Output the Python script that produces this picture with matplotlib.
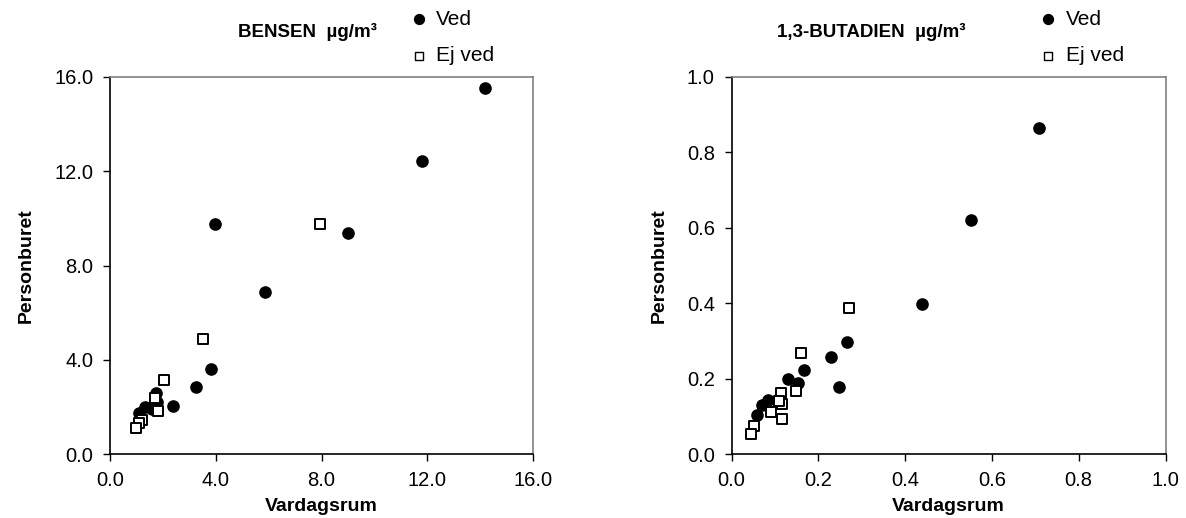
import matplotlib
matplotlib.use('Agg')
import matplotlib.pyplot as plt

plt.rcParams['font.family'] = ['Liberation Sans', 'DejaVu Sans']

# BENSEN (µg/m3): Vardagsrum vs Personburet
bensen_ved_x = [14.2, 11.8, 3.96, 9.0, 5.87, 3.81, 3.24, 2.39, 1.74, 1.77, 1.58, 1.32, 1.11]
bensen_ved_y = [15.55, 12.45, 9.77, 9.38, 6.88, 3.62, 2.83, 2.03, 2.61, 2.22, 1.89, 1.98, 1.75]
bensen_ejved_x = [7.94, 3.53, 2.04, 1.70, 1.83, 1.22, 1.10, 0.97]
bensen_ejved_y = [9.77, 4.90, 3.16, 2.36, 1.82, 1.44, 1.30, 1.09]

# 1,3-BUTADIEN (µg/m3)
butad_ved_x = [0.708, 0.552, 0.439, 0.265, 0.230, 0.248, 0.166, 0.131, 0.153, 0.110, 0.083, 0.071, 0.058]
butad_ved_y = [0.866, 0.622, 0.399, 0.298, 0.258, 0.178, 0.222, 0.198, 0.188, 0.146, 0.143, 0.129, 0.104]
butad_ejved_x = [0.270, 0.161, 0.148, 0.114, 0.117, 0.110, 0.092, 0.117, 0.052, 0.044]
butad_ejved_y = [0.388, 0.268, 0.168, 0.163, 0.133, 0.140, 0.112, 0.093, 0.073, 0.053]

bensen_ticks = [0.0, 4.0, 8.0, 12.0, 16.0]
butad_ticks = [0.0, 0.2, 0.4, 0.6, 0.8, 1.0]

W, H = 1186, 518
fig = plt.figure(figsize=(W / 100, H / 100), dpi=100)


def make_panel(rect, vx, vy, ex, ey, ticks, title, title_x):
    ax = fig.add_axes(rect)
    ax.scatter(vx, vy, s=65, marker='o', color='black', zorder=3, label='Ved')
    ax.scatter(ex, ey, s=60, marker='s', facecolor='white', edgecolor='black',
               linewidths=1.4, zorder=4, label='Ej ved')
    ax.set_xlim(ticks[0], ticks[-1])
    ax.set_ylim(ticks[0], ticks[-1])
    ax.set_xticks(ticks)
    ax.set_yticks(ticks)
    ax.set_xticklabels([f"{t:.1f}" for t in ticks])
    ax.set_yticklabels([f"{t:.1f}" for t in ticks])
    ax.tick_params(direction='out', length=5, width=1, labelsize=14.5, pad=7)
    for side in ['left', 'bottom']:
        ax.spines[side].set_color('black')
        ax.spines[side].set_linewidth(1.2)
    for side in ['top', 'right']:
        ax.spines[side].set_color('#808080')
        ax.spines[side].set_linewidth(1.2)
    ax.set_xlabel('Vardagsrum', fontsize=14, fontweight='bold', labelpad=6)
    ax.set_ylabel('Personburet', fontsize=14, fontweight='bold', labelpad=14)
    ax.text(title_x, 1.12, title, transform=ax.transAxes, ha='center', va='center',
            fontsize=13.5, fontweight='bold')
    leg = ax.legend(loc='center left', bbox_to_anchor=(0.705, 1.105), frameon=False,
                    fontsize=15, handletextpad=0.35, labelspacing=0.85,
                    handlelength=1.0, borderaxespad=0, borderpad=0)
    leg.legend_handles[0].set_sizes([50])
    leg.legend_handles[1].set_sizes([40])
    leg.legend_handles[1].set_linewidth(1.0)
    return ax


b = 1 - 454 / H
t = 1 - 77 / H
make_panel([110 / W, b, 423 / W, t - b], bensen_ved_x, bensen_ved_y,
           bensen_ejved_x, bensen_ejved_y, bensen_ticks, 'BENSEN  µg/m³', 0.466)
make_panel([731.5 / W, b, 434 / W, t - b], butad_ved_x, butad_ved_y,
           butad_ejved_x, butad_ejved_y, butad_ticks, '1,3-BUTADIEN  µg/m³', 0.323)

fig.savefig('out.png', dpi=100)
